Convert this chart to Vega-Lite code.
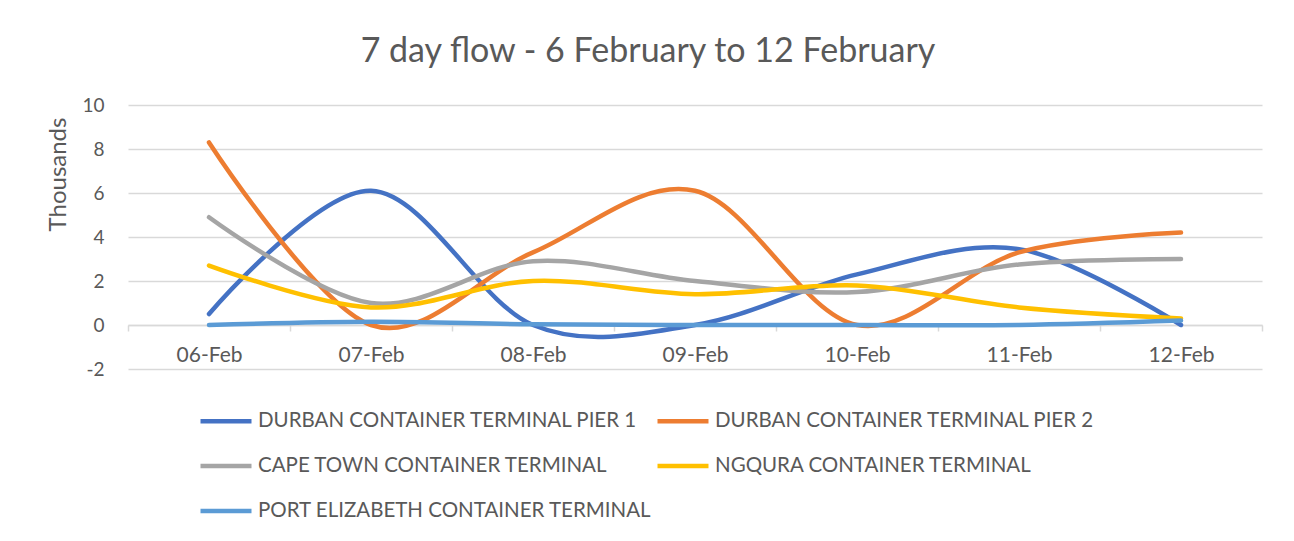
{
  "$schema": "https://vega.github.io/schema/vega-lite/v6.json",
  "width": 1134,
  "height": 264,
  "autosize": {"type": "none"},
  "padding": {"left": 128, "top": 105, "right": 32, "bottom": 172},
  "background": "white",
  "title": {
    "text": "7 day flow - 6 February to 12 February",
    "anchor": "middle",
    "dx": -47,
    "offset": 27,
    "font": "Lato",
    "fontSize": 34,
    "fontWeight": "normal",
    "color": "#595959"
  },
  "config": {
    "view": {"stroke": null},
    "font": "Lato"
  },
  "data": {
    "values": [
      {"date": "06-Feb", "terminal": "DURBAN CONTAINER TERMINAL PIER 1", "value": 0.5},
      {"date": "07-Feb", "terminal": "DURBAN CONTAINER TERMINAL PIER 1", "value": 6.1},
      {"date": "08-Feb", "terminal": "DURBAN CONTAINER TERMINAL PIER 1", "value": 0.0},
      {"date": "09-Feb", "terminal": "DURBAN CONTAINER TERMINAL PIER 1", "value": 0.0},
      {"date": "10-Feb", "terminal": "DURBAN CONTAINER TERMINAL PIER 1", "value": 2.3},
      {"date": "11-Feb", "terminal": "DURBAN CONTAINER TERMINAL PIER 1", "value": 3.45},
      {"date": "12-Feb", "terminal": "DURBAN CONTAINER TERMINAL PIER 1", "value": 0.0},
      {"date": "06-Feb", "terminal": "DURBAN CONTAINER TERMINAL PIER 2", "value": 8.3},
      {"date": "07-Feb", "terminal": "DURBAN CONTAINER TERMINAL PIER 2", "value": 0.0},
      {"date": "08-Feb", "terminal": "DURBAN CONTAINER TERMINAL PIER 2", "value": 3.3},
      {"date": "09-Feb", "terminal": "DURBAN CONTAINER TERMINAL PIER 2", "value": 6.1},
      {"date": "10-Feb", "terminal": "DURBAN CONTAINER TERMINAL PIER 2", "value": 0.0},
      {"date": "11-Feb", "terminal": "DURBAN CONTAINER TERMINAL PIER 2", "value": 3.3},
      {"date": "12-Feb", "terminal": "DURBAN CONTAINER TERMINAL PIER 2", "value": 4.2},
      {"date": "06-Feb", "terminal": "CAPE TOWN CONTAINER TERMINAL", "value": 4.9},
      {"date": "07-Feb", "terminal": "CAPE TOWN CONTAINER TERMINAL", "value": 1.0},
      {"date": "08-Feb", "terminal": "CAPE TOWN CONTAINER TERMINAL", "value": 2.9},
      {"date": "09-Feb", "terminal": "CAPE TOWN CONTAINER TERMINAL", "value": 2.0},
      {"date": "10-Feb", "terminal": "CAPE TOWN CONTAINER TERMINAL", "value": 1.5},
      {"date": "11-Feb", "terminal": "CAPE TOWN CONTAINER TERMINAL", "value": 2.75},
      {"date": "12-Feb", "terminal": "CAPE TOWN CONTAINER TERMINAL", "value": 3.0},
      {"date": "06-Feb", "terminal": "NGQURA CONTAINER TERMINAL", "value": 2.7},
      {"date": "07-Feb", "terminal": "NGQURA CONTAINER TERMINAL", "value": 0.8},
      {"date": "08-Feb", "terminal": "NGQURA CONTAINER TERMINAL", "value": 2.0},
      {"date": "09-Feb", "terminal": "NGQURA CONTAINER TERMINAL", "value": 1.4},
      {"date": "10-Feb", "terminal": "NGQURA CONTAINER TERMINAL", "value": 1.8},
      {"date": "11-Feb", "terminal": "NGQURA CONTAINER TERMINAL", "value": 0.8},
      {"date": "12-Feb", "terminal": "NGQURA CONTAINER TERMINAL", "value": 0.3},
      {"date": "06-Feb", "terminal": "PORT ELIZABETH CONTAINER TERMINAL", "value": 0.0},
      {"date": "07-Feb", "terminal": "PORT ELIZABETH CONTAINER TERMINAL", "value": 0.15},
      {"date": "08-Feb", "terminal": "PORT ELIZABETH CONTAINER TERMINAL", "value": 0.03},
      {"date": "09-Feb", "terminal": "PORT ELIZABETH CONTAINER TERMINAL", "value": 0.0},
      {"date": "10-Feb", "terminal": "PORT ELIZABETH CONTAINER TERMINAL", "value": 0.0},
      {"date": "11-Feb", "terminal": "PORT ELIZABETH CONTAINER TERMINAL", "value": 0.0},
      {"date": "12-Feb", "terminal": "PORT ELIZABETH CONTAINER TERMINAL", "value": 0.2}
    ]
  },
  "mark": {"type": "line", "interpolate": "cardinal", "tension": 0, "strokeWidth": 4.5, "strokeCap": "round"},
  "encoding": {
    "x": {
      "field": "date",
      "type": "ordinal",
      "scale": {"paddingInner": 0, "paddingOuter": 0},
      "axis": {
        "title": null,
        "offset": -44,
        "labelAngle": 0,
        "labelFont": "Lato",
        "labelFontSize": 21,
        "labelColor": "#595959",
        "labelPadding": 13,
        "tickBand": "extent",
        "tickSize": 6,
        "tickColor": "#d9d9d9",
        "tickWidth": 1.5,
        "domainColor": "#d9d9d9",
        "domainWidth": 1.5,
        "grid": false
      }
    },
    "y": {
      "field": "value",
      "type": "quantitative",
      "scale": {"domain": [-2, 10], "nice": false},
      "axis": {
        "title": "Thousands",
        "titleFont": "Lato",
        "titleFontSize": 24,
        "titleFontWeight": "normal",
        "titleColor": "#595959",
        "titleX": -70,
        "titleY": 69,
        "titleAlign": "center",
        "titleBaseline": "middle",
        "titleAngle": -90,
        "values": [-2, 0, 2, 4, 6, 8, 10],
        "labelExpr": "replace(datum.label, '−', '-')",
        "labelFont": "Lato",
        "labelFontSize": 19,
        "labelColor": "#595959",
        "labelPadding": 24,
        "ticks": false,
        "domain": false,
        "grid": true,
        "gridColor": "#d9d9d9",
        "gridWidth": 1.5
      }
    },
    "color": {
      "field": "terminal",
      "type": "nominal",
      "scale": {
        "domain": ["DURBAN CONTAINER TERMINAL PIER 1", "CAPE TOWN CONTAINER TERMINAL", "PORT ELIZABETH CONTAINER TERMINAL", "DURBAN CONTAINER TERMINAL PIER 2", "NGQURA CONTAINER TERMINAL"],
        "range": ["#4472C4", "#A5A5A5", "#5B9BD5", "#ED7D31", "#FFC000"]
      },
      "legend": {
        "title": null,
        "orient": "none",
        "legendX": 70,
        "legendY": 288,
        "columns": 2,
        "columnPadding": -4,
        "rowPadding": 6,
        "symbolType": "stroke",
        "symbolSize": 2600,
        "symbolStrokeWidth": 4.5,
        "labelFont": "Lato",
        "labelFontSize": 20.5,
        "labelColor": "#595959",
        "labelOffset": 4,
        "labelLimit": 600
      }
    }
  }
}
